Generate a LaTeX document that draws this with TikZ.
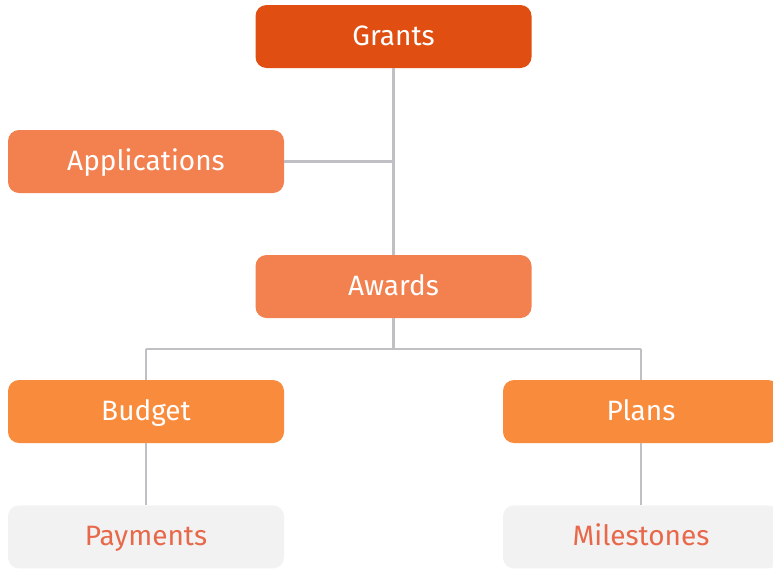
\documentclass[tikz,border=0pt]{standalone}
\usepackage{fontspec}
\setmainfont{Fira Sans}
\usetikzlibrary{positioning}
\definecolor{topfill}{RGB}{224,78,18}
\definecolor{midfill}{RGB}{243,128,79}
\definecolor{lowfill}{RGB}{249,139,60}
\definecolor{leaffill}{RGB}{242,242,242}
\definecolor{leaftext}{RGB}{232,104,74}
\definecolor{linkgray}{RGB}{192,192,196}

\begin{document}
\begin{tikzpicture}[x=1pt, y=-1pt, node distance=62pt,
                    box/.style={rectangle, rounded corners=11pt, minimum width=276pt,
                                minimum height=63pt, font=\fontsize{28}{32}\selectfont,
                                text height=19pt, text depth=1pt,
                                text=white, inner sep=0pt},
                    top node/.style={box, fill=topfill},
                    mid node/.style={box, fill=midfill},
                    low node/.style={box, fill=lowfill},
                    leaf node/.style={box, fill=leaffill, text=leaftext},
                    link/.style={draw=linkgray, line width=2.5pt}]
  \useasboundingbox (0,0) rectangle (773,568);

  \node[top node] (grants) at (393.5,36.5) {Grants};
  \node[mid node] (apps) at (146,161.5) {Applications};
  \node[mid node] (awards) at (393.5,286.5) {Awards};
  \node[low node] (budget) at (146,411.5) {Budget};
  \node[low node] (plans) at (641,411.5) {Plans};
  \node[leaf node] (payments) [below=of budget] {Payments};
  \node[leaf node] (milestones) [below=of plans] {Milestones};

  \coordinate (split) at (393.5,349);

  \path[link]
    (grants) edge (awards)
    (apps) edge (apps -| grants)
    (awards) edge (split)
    (split) edge (split -| budget)
            edge (split -| plans)
    (split -| budget) edge (budget)
    (split -| plans) edge (plans)
    (budget) edge (payments)
    (plans) edge (milestones);
\end{tikzpicture}
\end{document}
